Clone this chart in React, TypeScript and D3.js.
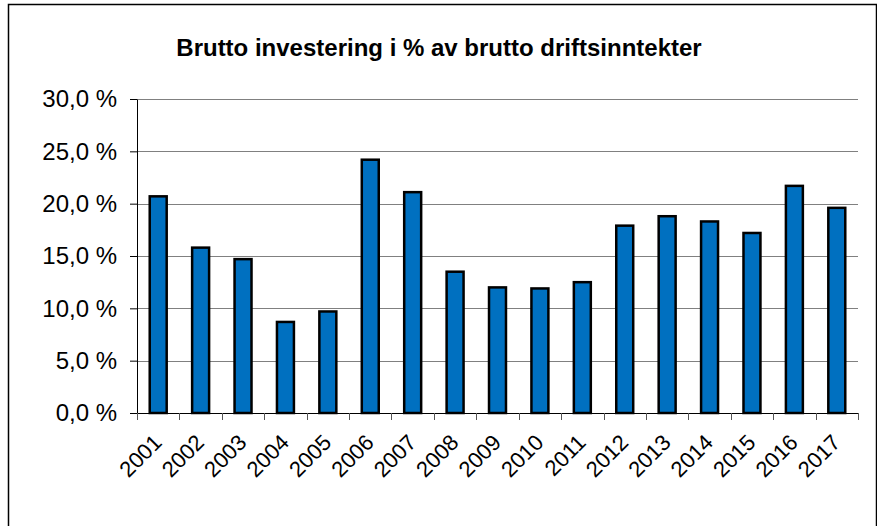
import React, { useRef, useEffect } from 'react';
import * as d3 from 'd3';

const years = ['2001', '2002', '2003', '2004', '2005', '2006', '2007', '2008', '2009',
  '2010', '2011', '2012', '2013', '2014', '2015', '2016', '2017'];
const investPct = [20.7, 15.8, 14.7, 8.7, 9.7, 24.2, 21.1, 13.5, 12.0, 11.9, 12.5,
  17.9, 18.8, 18.3, 17.2, 21.7, 19.6];
const yTicks = [0, 5, 10, 15, 20, 25, 30];
const title = 'Brutto investering i % av brutto driftsinntekter';

const W = 877;
const H = 526;
const margin = { top: 99, right: 19, bottom: 113, left: 137 };
const font = 'Arial, "Liberation Sans", Helvetica, sans-serif';

export default function App() {
  const gRef = useRef<SVGGElement>(null);
  const innerW = W - margin.left - margin.right;
  const innerH = H - margin.top - margin.bottom;

  const x = d3.scaleBand().domain(years).range([0, innerW]).paddingInner(0.6).paddingOuter(0.3);
  const y = d3.scaleLinear().domain([0, 30]).range([innerH, 0]);

  useEffect(() => {
    if (!gRef.current) return;
    const g = d3.select(gRef.current);
    g.selectAll('*').remove();

    // gridlines
    g.append('g')
      .selectAll('line')
      .data(yTicks.filter(t => t > 0))
      .join('line')
      .attr('x1', 0)
      .attr('x2', innerW)
      .attr('y1', d => Math.round(y(d)) + 0.5)
      .attr('y2', d => Math.round(y(d)) + 0.5)
      .attr('stroke', '#808080')
      .attr('stroke-width', 1);

    // bars
    g.append('g')
      .selectAll('rect')
      .data(investPct)
      .join('rect')
      .attr('x', (_, i) => x(years[i])!)
      .attr('y', d => y(d))
      .attr('width', x.bandwidth())
      .attr('height', d => innerH - y(d))
      .attr('fill', '#0070C0')
      .attr('stroke', '#000')
      .attr('stroke-width', 2.5);

    // y axis
    const yAxis = g.append('g')
      .call(d3.axisLeft(y).tickValues(yTicks).tickSize(7).tickSizeOuter(0)
        .tickFormat(d => `${(d as number).toFixed(1).replace('.', ',')} %`));
    yAxis.select('.domain').attr('stroke', '#000');
    yAxis.selectAll('.tick line').attr('stroke', '#000');
    yAxis.selectAll('.tick text')
      .attr('x', -20)
      .attr('font-family', font)
      .attr('font-size', 24)
      .attr('fill', '#000');

    // x axis: baseline + ticks between categories
    const step = x.step();
    const xa = g.append('g').attr('transform', `translate(0,${innerH})`);
    xa.append('line')
      .attr('x1', 0).attr('x2', innerW)
      .attr('y1', 0.5).attr('y2', 0.5)
      .attr('stroke', '#000');
    xa.selectAll('line.tk')
      .data(d3.range(years.length + 1))
      .join('line')
      .attr('class', 'tk')
      .attr('x1', i => Math.round(i * step) + 0.5)
      .attr('x2', i => Math.round(i * step) + 0.5)
      .attr('y1', 0)
      .attr('y2', 7)
      .attr('stroke', '#555');
    xa.selectAll('text')
      .data(years)
      .join('text')
      .attr('transform', d => `translate(${x(d)! + x.bandwidth() / 2 - 6},${20}) rotate(-45)`)
      .attr('text-anchor', 'end')
      .attr('dy', '0.7em')
      .attr('font-family', font)
      .attr('font-size', 22)
      .attr('fill', '#000')
      .text(d => d);
  }, []);

  return (
    <svg width={W} height={H} style={{ position: 'absolute', left: 0, top: 0, background: '#fff' }}>
      <rect x={8.5} y={4.5} width={868} height={540} fill="#fff" stroke="#000" strokeWidth={1.5} />
      <text x={439} y={56} textAnchor="middle" fontFamily={font} fontWeight="bold" fontSize={24}>
        {title}
      </text>
      <g ref={gRef} transform={`translate(${margin.left},${margin.top})`} />
    </svg>
  );
}
